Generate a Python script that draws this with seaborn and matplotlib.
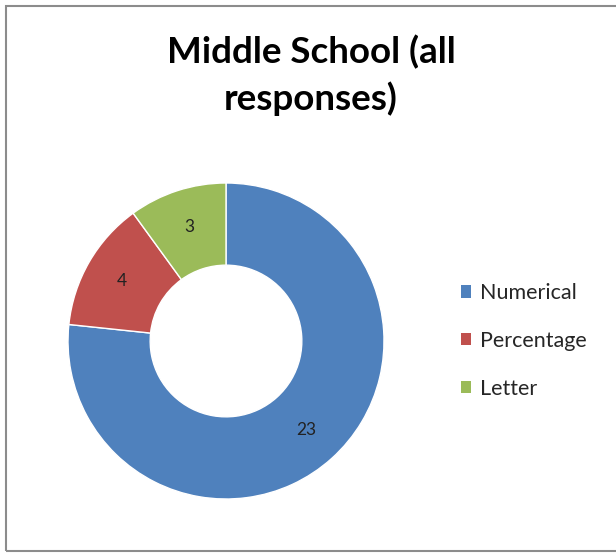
import matplotlib
matplotlib.use("Agg")
import matplotlib.pyplot as plt
import seaborn as sns
from matplotlib.patches import Rectangle, Patch

categories = ["Numerical", "Percentage", "Letter"]
values = [23, 4, 3]
colors = ["#4F81BD", "#C0504D", "#9BBB59"]
title = "Middle School (all\nresponses)"

sns.set_theme(style="white")
plt.rcParams['font.family'] = ['Lato', 'DejaVu Sans']

W, H = 616, 553
fig = plt.figure(figsize=(W / 100, H / 100), dpi=100)
fig.patch.set_facecolor("white")

# frame
fig.add_artist(Rectangle((6 / W, 2 / H), 1.2, (H - 8) / H, transform=fig.transFigure,
                         fill=False, edgecolor="#8c8c8c", linewidth=1.5))

ax = fig.add_axes([68 / W, 54 / H, 316 / W, 316 / H])
wedges, texts, autotexts = ax.pie(
    values, colors=colors, startangle=90, counterclock=False,
    autopct=lambda p: f"{round(p * sum(values) / 100):d}", pctdistance=0.76,
    wedgeprops=dict(width=0.52, edgecolor="white", linewidth=1),
    textprops=dict(fontsize=12.5, color="#222222"))
ax.set_aspect("equal")
ax.set_xlim(-1, 1)
ax.set_ylim(-1, 1)

fig.text(311 / W, 1 - 75 / H, title, ha="center", va="center", fontsize=26.5,
         fontweight="bold", linespacing=1.42, color="black")

handles = [Patch(facecolor=c, edgecolor="none") for c in colors]
fig.legend(handles, categories, loc="center left", bbox_to_anchor=(452 / W, 1 - 341 / H),
           frameon=False, fontsize=15.5, handlelength=0.5, handleheight=0.5,
           handletextpad=0.4, labelspacing=1.3, borderaxespad=0)

fig.savefig("out.png", dpi=100)
